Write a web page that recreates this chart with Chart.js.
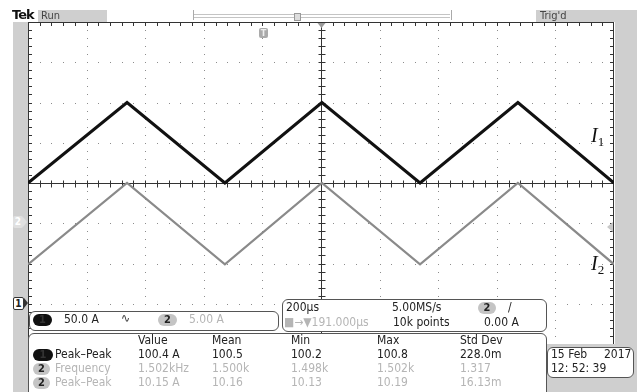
<!DOCTYPE html>
<html>
<head>
<meta charset="utf-8">
<script src="https://cdn.jsdelivr.net/npm/chart.js@4"></script>
<style>
  body { margin: 0; background: #fff; }
  #wrap { position: relative; width: 637px; height: 392px; overflow: hidden;
          font-family: "DejaVu Sans Condensed", "Liberation Sans Narrow", "Liberation Sans", sans-serif; font-size: 12px; color: #222; }
  #wrap div, #wrap span { position: absolute; white-space: nowrap; }
  canvas { position: absolute; left: 0; top: 0; }
  .gray { background: #cfcfcf; }
  .box { background: #fff; border: 1px solid #555; border-radius: 6px; }
  .badge { height: 12px; border-radius: 7px; text-align: center; font-weight: bold; font-size: 11px; line-height: 12px; }
  .b1 { background: #111; color: #333; }
  .b2 { background: #c4c4c4; color: #222; }
  .lt { color: #b5b5b5; }
  .lbl { font-family: "Liberation Serif", serif; font-style: italic; font-size: 20px; color: #111; }
  .lbl sub { font-style: normal; font-size: 13px; vertical-align: -4px; }
  .arr { width: 0; height: 0; border-top: 5px solid transparent; border-bottom: 5px solid transparent; }
</style>
</head>
<body>
<div id="wrap">
  <canvas id="scope" width="637" height="392"></canvas>
</div>
<script>
// time axis in µs (200 µs/div, 10 div)
const timeTicks = [-1000, -800, -600, -400, -200, 0, 200, 400, 600, 800, 1000];
// corner points of the triangle waves
const times = [-1000, -662, -328, 3, 338, 672, 1000];
const i1Values = [150, 250, 150, 250, 150, 250, 150];   // A, ch1 50 A/div
const i2Values = [-5.1, 5, -5.1, 5, -5.1, 5, -5.1];     // A, ch2 5 A/div

// measurement table
const measHeads = ['Value', 'Mean', 'Min', 'Max', 'Std Dev'];
const measNames = ['Peak\u2013Peak', 'Frequency', 'Peak\u2013Peak'];
const measChannels = ['1', '2', '2'];
const measRows = [
	['100.4 A', '100.5', '100.2', '100.8', '228.0m'],
	['1.502kHz', '1.500k', '1.498k', '1.502k', '1.317'],
	['10.15 A', '10.16', '10.13', '10.19', '16.13m'],
];

const wrap = document.getElementById('wrap');
function add(html, x, y, cls, style) {
	const d = document.createElement('div');
	d.innerHTML = html;
	if (cls) d.className = cls;
	d.style.left = x + 'px';
	d.style.top = y + 'px';
	if (style) d.style.cssText += style;
	wrap.appendChild(d);
	return d;
}

// graticule: dotted grid, solid centre lines with minor ticks, frame
const graticule = {
	id: 'graticule',
	beforeDatasetsDraw(chart) {
		const { ctx, chartArea: a } = chart;
		const sx = chart.scales.x, sy = chart.scales.y;
		const xs = timeTicks.map(v => Math.round(sx.getPixelForValue(v)));
		const ys = [];
		for (let d = -4; d <= 4; d++) ys.push(Math.round(sy.getPixelForValue((d + 3) * 50)));
		const dx = (a.right - a.left) / 50, dy = (a.bottom - a.top) / 40;
		ctx.save();
		ctx.fillStyle = '#8c8c8c';
		xs.slice(1, -1).forEach((x, i) => {
			if (i === 4) return;
			for (let j = 1; j < 40; j++) ctx.fillRect(x, Math.round(a.top + j * dy), 1, 1);
		});
		ys.slice(1, -1).forEach((y, i) => {
			if (i === 3) return;
			for (let j = 1; j < 50; j++) ctx.fillRect(Math.round(a.left + j * dx), y, 1, 1);
		});
		ctx.strokeStyle = '#333';
		ctx.lineWidth = 1;
		const cx = xs[5] + 0.5, cy = ys[4] + 0.5;
		ctx.beginPath();
		ctx.moveTo(cx, a.top); ctx.lineTo(cx, a.bottom);
		ctx.moveTo(a.left, cy); ctx.lineTo(a.right, cy);
		for (let j = 1; j < 50; j++) {
			const x = Math.round(a.left + j * dx) + 0.5;
			ctx.moveTo(x, cy - 3); ctx.lineTo(x, cy + 4);
			ctx.moveTo(x, a.top); ctx.lineTo(x, a.top + 4);
		}
		for (let j = 1; j < 40; j++) {
			const y = Math.round(a.top + j * dy) + 0.5;
			ctx.moveTo(cx - 3, y); ctx.lineTo(cx + 4, y);
			ctx.moveTo(a.left, y); ctx.lineTo(a.left + 4, y);
			ctx.moveTo(a.right - 4, y); ctx.lineTo(a.right, y);
		}
		ctx.stroke();
		ctx.strokeRect(a.left + 0.5, a.top + 0.5, a.right - a.left - 1, a.bottom - a.top);
		// trigger position marker
		ctx.fillStyle = '#999';
		ctx.beginPath();
		ctx.moveTo(cx - 4, a.top + 1); ctx.lineTo(cx + 4, a.top + 1); ctx.lineTo(cx, a.top + 6);
		ctx.fill();
		// trigger level arrow (ch2, 0.00 A)
		const ty = Math.round(chart.scales.y2.getPixelForValue(0)) + 4;
		ctx.fillStyle = '#c8c8c8';
		ctx.beginPath();
		ctx.moveTo(a.right - 1, ty - 5); ctx.lineTo(a.right - 1, ty + 5); ctx.lineTo(a.right - 7, ty);
		ctx.fill();
		ctx.restore();
	},
};

new Chart(document.getElementById('scope'), {
	type: 'line',
	data: {
		datasets: [
			{
				label: 'I2',
				data: times.map((t, i) => ({ x: t, y: i2Values[i] })),
				yAxisID: 'y2',
				borderColor: '#8a8a8a',
				borderWidth: 2.2,
				pointRadius: 0,
				tension: 0,
			},
			{
				label: 'I1',
				data: times.map((t, i) => ({ x: t, y: i1Values[i] })),
				yAxisID: 'y',
				borderColor: '#111',
				borderWidth: 3,
				pointRadius: 0,
				tension: 0,
			},
		],
	},
	options: {
		responsive: false,
		animation: false,
		layout: { padding: { left: 28, right: 23, top: 22, bottom: 48 } },
		plugins: { legend: { display: false }, tooltip: { enabled: false } },
		scales: {
			x: { type: 'linear', min: -1000, max: 1000, display: false },
			y: { min: -50, max: 350, display: false },
			y2: { min: -15, max: 25, display: false },
		},
	},
	plugins: [graticule],
});

// header
add('', 38, 10, 'gray', 'width:69px;height:12px;');
add('Run', 41, 9, '', 'font-size:11px;color:#444;');
add('Tek', 12, 7, '', 'font-family:"DejaVu Sans";font-weight:bold;font-size:13px;letter-spacing:-1px;color:#111;');
add('', 193, 10, '', 'width:257px;height:10px;border-left:1px solid #aaa;border-right:1px solid #aaa;');
add('', 194, 14, '', 'width:256px;height:2px;border-top:1px solid #c4c4c4;border-bottom:1px solid #c4c4c4;');
add('', 294, 13, '', 'width:5px;height:6px;border:1px solid #999;background:#ddd;');
add('', 536, 10, 'gray', 'width:101px;height:12px;');
add("Trig'd", 540, 9, '', 'font-size:11px;color:#444;');

// side strips
add('', 13, 22, 'gray', 'width:15px;height:370px;');
add('', 615, 22, 'gray', 'width:22px;height:370px;');
add('', 546, 344, 'gray', 'width:91px;height:48px;');
// ground markers
add('1', 13, 297, '', 'width:9px;height:11px;border:1px solid #333;border-radius:2px;background:#fff;font-size:10px;line-height:11px;text-align:center;font-weight:bold;');
add('', 24, 298, 'arr', 'border-left:4px solid #333;');
add('2', 13, 216, '', 'width:10px;height:12px;border-radius:2px;background:#e0e0e0;color:#fff;font-size:10px;line-height:12px;text-align:center;font-weight:bold;');
add('', 23, 217, 'arr', 'border-left:4px solid #e0e0e0;');
// trigger position icon
add('T', 259, 28, '', 'width:9px;height:10px;background:#aaa;color:#eee;border-radius:2px;font-size:9px;line-height:10px;text-align:center;font-weight:bold;');

// waveform labels
add('I<sub>1</sub>', 591, 124, 'lbl');
add('I<sub>2</sub>', 591, 252, 'lbl');

// channel box
add('', 29, 311, 'box', 'width:248px;height:18px;');
add('1', 33, 314, 'badge b1', 'width:19px;');
add('50.0 A', 64, 312);
add('\u223f', 121, 311, '', 'font-size:12px;color:#333;');
add('2', 158, 314, 'badge b2', 'width:19px;');
add('5.00 A', 189, 312, 'lt');

// timebase box
add('', 282, 299, 'box', 'width:263px;height:31px;');
add('200\u00b5s', 286, 300);
add('5.00MS/s', 392, 300);
add('2', 478, 302, 'badge b2', 'width:18px;');
add('/', 508, 300);
add('\u25a0\u2192\u25bc191.000\u00b5s', 284, 315, 'lt');
add('10k points', 393, 315);
add('0.00 A', 484, 315);

// measurement box
add('', 28, 333, 'box', 'width:517px;height:64px;');
const colX = [138, 212, 291, 377, 460];
measHeads.forEach((h, i) => add(h, colX[i], 333));
measRows.forEach((row, r) => {
	const y = 347 + r * 14;
	const cls = r === 0 ? '' : 'lt';
	add(measChannels[r], 33, y + 2, 'badge ' + (r === 0 ? 'b1' : 'b2'), 'width:' + (r === 0 ? 20 : 17) + 'px;');
	add(measNames[r], 55, y, cls);
	row.forEach((v, i) => add(v, colX[i], y, cls));
});

// date box
add('', 547, 347, 'box', 'width:85px;height:29px;');
add('15 Feb', 551, 347);
add('2017', 604, 347);
add('12: 52: 39', 551, 361);
</script>
</body>
</html>
